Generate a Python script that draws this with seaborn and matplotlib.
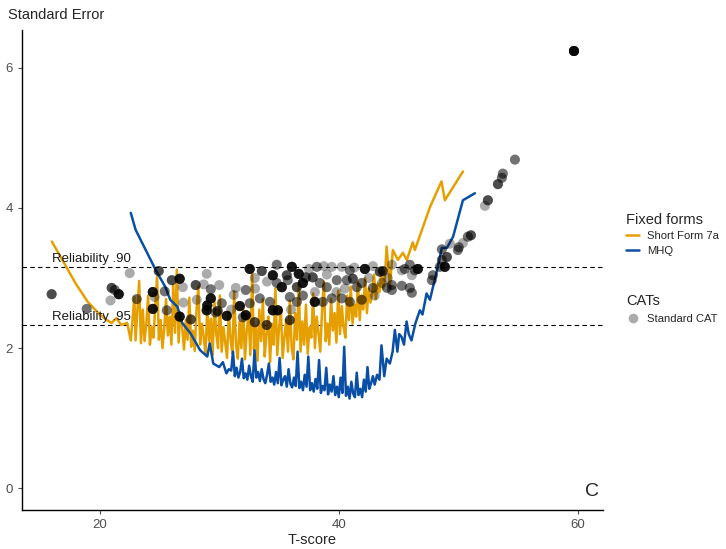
import matplotlib.pyplot as plt
import numpy as np
import pandas as pd
import seaborn as sns
from matplotlib.lines import Line2D

# Short Form 7a standard error by T-score (head, dense middle part, tail)
sf_head_t = [16.0, 17.0, 18.0, 19.0, 20.0, 20.6, 21.0, 21.4, 21.8, 22.3, 22.6, 22.9, 23.0, 23.3, 23.45]
sf_head_se = [3.52, 3.22, 2.92, 2.66, 2.48, 2.40, 2.36, 2.43, 2.33, 2.36, 2.11, 2.73, 2.11, 2.96, 2.07]
sf_mid_t = np.linspace(23.6, 43.85, 136)
sf_mid_se = [2.55, 2.10, 2.35, 2.75, 2.05, 2.30, 2.15, 2.62, 3.02, 2.12, 2.40, 2.00, 2.28, 2.70,
             2.18, 2.45, 2.05, 2.90, 2.22, 3.12, 2.08, 2.50, 2.30,
             1.98, 2.40, 2.12, 2.72, 2.02, 2.25, 1.96, 2.55, 2.88, 2.05, 2.35, 2.15, 1.92, 2.60,
             2.10, 2.42, 1.90, 2.68, 2.20, 2.00,
             2.75, 1.95, 2.30, 2.08, 1.86, 2.52, 2.12, 1.92, 2.80, 2.05, 1.85, 2.38, 2.00, 2.60,
             1.84, 2.25, 2.48, 1.90, 3.08, 1.98, 2.32, 1.82, 2.55, 2.10, 2.70, 1.88, 2.20, 2.45,
             1.80, 2.35, 2.05, 2.85, 1.90, 2.28, 2.58, 1.86, 2.15, 2.40, 1.95, 2.68, 2.02, 1.84,
             2.50, 2.12, 2.92, 1.95, 2.38,
             2.05, 2.62, 1.92, 2.30, 2.15, 2.78, 2.00, 2.45, 2.22, 1.95, 2.55, 2.95, 2.10, 2.35,
             2.05, 2.70, 2.25, 2.50, 2.08, 2.82, 2.20, 2.60, 2.30, 2.15, 2.75, 2.40, 2.88,
             2.35, 2.62, 2.45, 2.95, 2.40, 2.75, 2.55, 3.00, 2.50, 2.85, 2.65, 2.78, 3.05, 2.70,
             2.92, 2.80, 3.10, 2.85, 3.00]
sf_tail_t = [44.0, 44.27, 44.52, 44.94, 45.36, 45.69, 46.19, 46.36, 47.62, 48.59, 48.87, 50.38]
sf_tail_se = [3.45, 2.88, 3.40, 3.26, 3.36, 3.26, 3.51, 3.40, 4.01, 4.38, 4.11, 4.52]

# MHQ standard error by T-score
mhq_head_t = [22.6, 23.0, 24.7, 25.5, 25.9, 26.5, 26.9, 27.6, 28.4, 29.0, 29.2, 29.5, 30.0, 30.3,
              30.6, 30.8]
mhq_head_se = [3.93, 3.69, 3.11, 2.87, 2.69, 2.59, 2.36, 2.21, 1.97, 1.88, 2.07, 1.78, 1.73, 1.80,
               1.64, 1.70]
mhq_mid_t = np.linspace(31.0, 43.0, 81)
mhq_mid_se = [1.68, 1.95, 1.60, 1.72, 1.58, 1.66, 1.85, 1.57, 1.64, 1.55, 1.75, 1.60, 1.52, 1.97,
              1.58, 1.66, 1.53, 1.70, 1.56, 1.50,
              1.62, 1.78, 1.52, 1.58, 1.48, 1.66, 1.50, 1.86, 1.47, 1.55, 1.60, 1.45, 1.70, 1.49,
              1.44, 1.58, 1.46, 1.95, 1.43, 1.52,
              1.40, 1.62, 1.45, 1.88, 1.40, 1.50, 1.38, 1.56, 1.42, 1.83, 1.36, 1.46, 1.40, 1.72,
              1.34, 1.48, 1.38, 1.60, 1.33, 1.45,
              1.30, 1.58, 1.36, 2.02, 1.32, 1.45, 1.28, 1.52, 1.35, 1.30, 1.65, 1.33, 1.42, 1.30,
              1.55, 1.38, 1.73, 1.42, 1.50, 1.60, 1.48]
mhq_tail_t = [43.2, 43.4, 43.57, 43.8, 44.0, 44.27, 44.5, 44.69, 44.9, 45.05, 45.25, 45.45, 45.67,
              45.85, 46.08, 46.4, 46.78, 47.0, 47.34, 47.62, 48.2, 48.62, 49.04, 49.56, 50.38, 51.38]
mhq_tail_se = [1.62, 1.55, 2.04, 1.60, 1.85, 1.78, 1.95, 2.26, 1.95, 2.20, 2.16, 2.05, 2.38,
               2.20, 2.11, 2.35, 2.54, 2.48, 2.78, 2.69, 3.10, 3.43, 3.43, 3.59, 4.11, 4.21]

# Standard CAT results: T-score, standard error, number of simulees at that spot
cat_t = [15.98, 18.91, 21.0, 21.26, 20.9, 21.59, 22.51, 23.10, 24.44, 24.44, 24.60, 24.94, 25.44,
         25.61, 26.03, 26.69, 26.95, 26.69, 27.62, 28.03, 28.12, 28.70, 28.95, 28.95, 29.0, 29.29,
         29.29, 29.71, 29.87, 30.21, 30.63, 31.38, 31.21, 31.72, 32.22, 32.22, 31.97, 32.55, 33.56,
         32.97, 32.97, 32.55, 33.39, 33.97, 34.23, 34.48, 34.90, 34.81, 34.48, 34.81, 35.23, 35.73,
         35.65, 36.07, 35.90, 35.90, 36.49, 36.49, 36.65, 36.99, 37.24, 37.82, 37.99, 38.16, 38.41,
         38.74, 38.66, 38.99, 39.41, 39.41, 39.83, 40.25, 40.25, 40.67, 40.92, 40.92, 41.17, 41.51,
         41.92, 41.92, 42.18, 42.85, 42.85, 43.43, 43.60, 43.68, 44.10, 44.44, 44.44, 44.44, 44.02,
         45.27, 45.27, 45.52, 45.94, 45.94, 46.11, 46.11, 46.36, 46.61, 47.78, 47.87, 48.45, 48.62,
         48.87, 49.04, 48.62, 49.29, 49.96, 50.04, 50.38, 50.79, 51.05, 52.22, 52.47, 53.31, 53.64,
         53.72, 54.73, 59.67,
         37.5, 38.0, 39.0, 39.8, 40.5, 41.3, 42.5, 43.0, 37.0, 36.0, 33.0, 34.0, 31.0, 30.0, 27.0]
cat_se = [2.77, 2.56, 2.86, 2.83, 2.68, 2.77, 3.07, 2.70, 2.80, 2.56, 2.73, 3.10, 2.81,
          2.54, 2.97, 2.99, 2.87, 2.45, 2.41, 2.90, 2.69, 2.91, 3.06, 2.54, 2.61, 2.71,
          2.84, 2.51, 2.53, 2.64, 2.46, 2.86, 2.76, 2.60, 2.47, 2.83, 2.44, 3.13, 3.10,
          3.00, 2.37, 2.64, 2.71, 2.33, 2.66, 2.54, 2.54, 3.19, 3.04, 2.93, 2.87, 2.97,
          3.04, 3.16, 2.73, 2.40, 2.87, 2.66, 3.06, 2.93, 3.01, 3.01, 2.66, 3.16, 2.93,
          3.17, 2.66, 2.87, 3.16, 2.71, 2.97, 3.16, 2.71, 2.97, 3.11, 2.66, 2.99, 2.87,
          2.93, 2.69, 3.13, 3.17, 2.86, 3.09, 2.93, 3.10, 3.00, 3.19, 2.90, 2.83, 2.86,
          3.11, 2.89, 3.13, 3.19, 2.86, 2.79, 3.04, 3.11, 3.13, 2.97, 3.04, 3.16, 3.26,
          3.16, 3.30, 3.41, 3.49, 3.40, 3.44, 3.50, 3.59, 3.61, 4.03, 4.11, 4.34, 4.43,
          4.49, 4.69, 6.24,
          3.13, 2.80, 3.05, 2.80, 2.85, 3.15, 3.00, 2.75, 2.75, 2.55, 2.85, 2.95, 2.55, 2.90, 2.65]
cat_n = [3, 2, 3, 2, 1, 6, 1, 2, 6, 6, 1, 3, 2,
         2, 3, 6, 1, 6, 3, 3, 1, 1, 1, 6, 6, 6,
         2, 2, 3, 2, 6, 1, 1, 6, 6, 2, 2, 6, 3,
         1, 3, 2, 2, 3, 2, 6, 6, 2, 6, 2, 6, 2,
         3, 6, 2, 3, 3, 2, 6, 6, 3, 3, 6, 2, 2,
         1, 2, 2, 1, 2, 2, 1, 2, 2, 2, 2, 3, 2,
         2, 2, 6, 1, 2, 3, 1, 3, 1, 1, 2, 2, 2,
         1, 2, 2, 2, 2, 2, 1, 2, 6, 2, 2, 2, 2,
         6, 3, 2, 1, 2, 2, 1, 2, 3, 1, 3, 3, 2,
         2, 2, 8,
         1, 1, 1, 1, 1, 1, 1, 1, 2, 1, 1, 1, 1, 1, 1]

rel_labels = ["Reliability .90", "Reliability .95"]
rel_se = [3.16, 2.33]

form_names = ["Short Form 7a", "MHQ"]
form_colors = ["#E69F00", "#0A4FA6"]

sf = pd.DataFrame({"T": np.concatenate([sf_head_t, sf_mid_t, sf_tail_t]),
                   "SE": np.concatenate([sf_head_se, sf_mid_se, sf_tail_se]),
                   "form": form_names[0]})
mhq = pd.DataFrame({"T": np.concatenate([mhq_head_t, mhq_mid_t, mhq_tail_t]),
                    "SE": np.concatenate([mhq_head_se, mhq_mid_se, mhq_tail_se]),
                    "form": form_names[1]})
lines = pd.concat([sf, mhq], ignore_index=True)
cats = pd.DataFrame({"T": np.repeat(cat_t, cat_n), "SE": np.repeat(cat_se, cat_n)})

sns.set_style("ticks")
plt.rcParams["font.family"] = ["Liberation Sans", "DejaVu Sans"]

fig = plt.figure(figsize=(7.26, 5.49), dpi=100)
ax = fig.add_axes([0.0303, 0.071, 0.8003, 0.8744])

sns.lineplot(data=lines, x="T", y="SE", hue="form", palette=dict(zip(form_names, form_colors)),
             estimator=None, sort=False, legend=False, lw=1.8, ax=ax)
sns.scatterplot(data=cats, x="T", y="SE", color="black", alpha=0.33, s=52,
                edgecolor="none", legend=False, ax=ax, zorder=3)

for lab, se in zip(rel_labels, rel_se):
    ax.axhline(se, color="black", lw=0.8, ls=(0, (4, 3)), zorder=1)
    ax.text(16.0, se + 0.03, lab, fontsize=9.5, va="bottom", ha="left", color="#1a1a1a")

ax.text(61.8, -0.05, "C", fontsize=14, ha="right", va="center")

ax.set_xlim(13.5, 62.1)
ax.set_ylim(-0.31, 6.54)
ax.set_xticks([20, 40, 60])
ax.set_yticks([0, 2, 4, 6])
ax.tick_params(labelsize=9.5, colors="#4d4d4d", labelcolor="#4d4d4d", length=3, width=0.8)
ax.set_xlabel("T-score", fontsize=10.5, labelpad=1.5)
ax.set_ylabel("")
for side in ["left", "bottom"]:
    ax.spines[side].set_linewidth(1.0)
    ax.spines[side].set_color("black")
sns.despine(ax=ax)
fig.text(0.011, 0.973, "Standard Error", fontsize=10.5, ha="left", va="center")

form_handles = [Line2D([], [], color=c, lw=1.8) for c in form_colors]
leg1 = fig.legend(form_handles, form_names, title="Fixed forms", loc="upper left",
                  bbox_to_anchor=(0.848, 0.631), frameon=False, fontsize=8.1,
                  title_fontsize=10.5, handlelength=1.2, handletextpad=0.7,
                  labelspacing=0.4, alignment="left")
cat_handle = [Line2D([], [], marker="o", ls="none", color="black", alpha=0.33,
                     markersize=7, markeredgewidth=0)]
leg2 = fig.legend(cat_handle, ["Standard CAT"], title="CATs", loc="upper left",
                  bbox_to_anchor=(0.848, 0.483), frameon=False, fontsize=8.1,
                  title_fontsize=10.5, handlelength=1.2, handletextpad=0.7,
                  alignment="left")

fig.savefig("out.png", dpi=100)
